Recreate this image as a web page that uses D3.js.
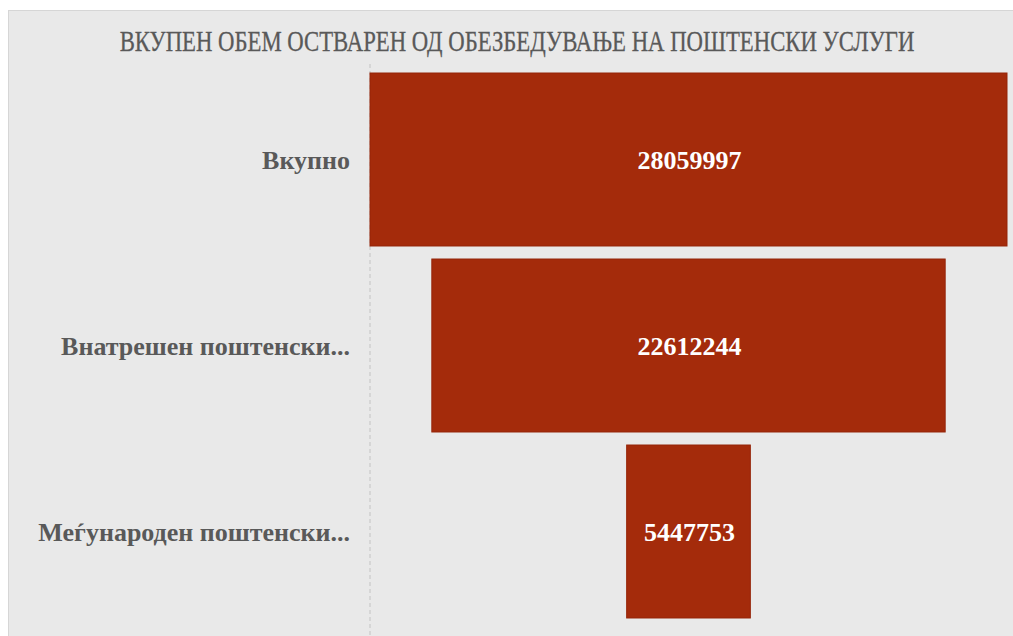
<!DOCTYPE html>
<html>
<head>
<meta charset="utf-8">
<script src="https://cdn.jsdelivr.net/npm/d3@7"></script>
<style>
  html, body { margin: 0; padding: 0; background: #ffffff; }
  svg { display: block; }
</style>
</head>
<body>
<svg id="chart" width="1013" height="636"></svg>
<script>
const titleText = "ВКУПЕН ОБЕМ ОСТВАРЕН ОД ОБЕЗБЕДУВАЊЕ НА ПОШТЕНСКИ УСЛУГИ";
const categories = ["Вкупно", "Внатрешен поштенски...", "Меѓународен поштенски..."];
const values = [28059997, 22612244, 5447753];

const svg = d3.select("#chart");
const W = 1013, H = 636;

// panel
svg.append("rect").attr("x", 8.5).attr("y", 10.5).attr("width", W - 8).attr("height", H - 10)
  .attr("fill", "#e9e9e9").attr("stroke", "#d6d6d6").attr("stroke-width", 1);

// title (condensed via horizontal scale)
const titleG = svg.append("g");
const title = titleG.append("text")
  .attr("x", 0).attr("y", 0)
  .attr("text-anchor", "middle")
  .attr("font-family", "'Liberation Serif', serif")
  .attr("font-size", 30)
  .attr("fill", "#595959")
  .attr("stroke", "#595959")
  .attr("stroke-width", 0.3)
  .text(titleText);
const natural = title.node().getComputedTextLength();
const sx = 795 / natural;
titleG.attr("transform", `translate(517,51) scale(${sx},1)`);

const centerX = 688.5;
const maxW = 637;
const x = d3.scaleLinear().domain([0, d3.max(values)]).range([0, maxW]);
const y = d3.scaleBand().domain(categories).range([66.5, 624.5]).paddingInner(0.07).paddingOuter(0.035);

// axis line (dashed)
svg.append("line")
  .attr("x1", centerX - x(d3.max(values)) / 2).attr("x2", centerX - x(d3.max(values)) / 2)
  .attr("y1", 64).attr("y2", H)
  .attr("stroke", "#cfcfcf").attr("stroke-width", 1.5)
  .attr("stroke-dasharray", "4,3");

// bars
svg.selectAll("rect.bar").data(values).enter().append("rect")
  .attr("class", "bar")
  .attr("x", d => centerX - x(d) / 2)
  .attr("y", (d, i) => y(categories[i]))
  .attr("width", d => x(d))
  .attr("height", y.bandwidth())
  .attr("fill", "#a42b0b")
  .attr("stroke", "#952509")
  .attr("stroke-width", 1);

// value labels
svg.selectAll("text.val").data(values).enter().append("text")
  .attr("class", "val")
  .attr("x", centerX + 1)
  .attr("y", (d, i) => y(categories[i]) + y.bandwidth() / 2)
  .attr("dy", "0.35em")
  .attr("text-anchor", "middle")
  .attr("font-family", "'Liberation Serif', serif")
  .attr("font-weight", "bold")
  .attr("font-size", 26)
  .attr("fill", "#ffffff")
  .text(d => d);

// category labels
svg.selectAll("text.cat").data(categories).enter().append("text")
  .attr("class", "cat")
  .attr("x", 350)
  .attr("y", d => y(d) + y.bandwidth() / 2)
  .attr("dy", "0.35em")
  .attr("text-anchor", "end")
  .attr("font-family", "'Liberation Serif', serif")
  .attr("font-weight", "bold")
  .attr("font-size", 26)
  .attr("fill", "#595959")
  .text(d => d);
</script>
</body>
</html>
